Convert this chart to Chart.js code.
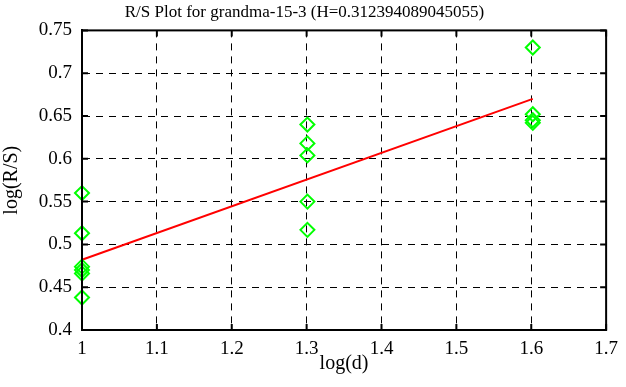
<!DOCTYPE html>
<html lang="en">
<head>
    <meta charset="UTF-8">
    <script src="https://cdn.jsdelivr.net/npm/chart.js"></script>
    <title>R/S Plot</title>
    <style>
        html, body { margin: 0; padding: 0; background: #fff; }
        #wrap { width: 626px; height: 387px; }
    </style>
</head>
<body>
<div id="wrap"><canvas id="grafico"></canvas></div>
<script>
    // log(d) and log(R/S)
    const rsX = [1, 1, 1, 1, 1, 1,
                 1.30103, 1.30103, 1.30103, 1.30103, 1.30103,
                 1.60206, 1.60206, 1.60206, 1.60206];
    const rsY = [0.560, 0.513, 0.474, 0.470, 0.466, 0.438,
                 0.640, 0.618, 0.604, 0.550, 0.517,
                 0.730, 0.652, 0.645, 0.642];

    // fitted line (slope H)
    const fitX = [1, 1.60206];
    const fitY = [0.482, 0.670];

    const xTickLabels = ['1', '1.1', '1.2', '1.3', '1.4', '1.5', '1.6', '1.7'];
    const yTickLabels = ['0.4', '0.45', '0.5', '0.55', '0.6', '0.65', '0.7', '0.75'];

    const serif = 'Liberation Serif';

    // box around the plot with small inward ticks
    const frame = {
        id: 'frame',
        afterDraw(chart) {
            const {ctx, chartArea: a, scales} = chart;
            ctx.save();
            ctx.strokeStyle = '#000';
            ctx.lineWidth = 2;
            ctx.strokeRect(a.left, a.top, a.right - a.left, a.bottom - a.top);
            ctx.beginPath();
            scales.x.ticks.forEach(t => {
                const px = scales.x.getPixelForValue(t.value);
                ctx.moveTo(px, a.bottom); ctx.lineTo(px, a.bottom - 6);
                ctx.moveTo(px, a.top); ctx.lineTo(px, a.top + 6);
            });
            scales.y.ticks.forEach(t => {
                const py = scales.y.getPixelForValue(t.value);
                ctx.moveTo(a.left, py); ctx.lineTo(a.left + 6, py);
                ctx.moveTo(a.right, py); ctx.lineTo(a.right - 6, py);
            });
            ctx.stroke();
            ctx.restore();
        }
    };

    const ctx = document.getElementById('grafico').getContext('2d');
    new Chart(ctx, {
        type: 'scatter',
        data: {
            datasets: [{
                label: 'R/S',
                data: rsX.map((x, i) => ({x: x, y: rsY[i]})),
                pointStyle: 'rectRot',
                pointRadius: 7,
                pointHoverRadius: 7,
                borderWidth: 2,
                borderColor: '#00ff00',
                backgroundColor: 'rgba(0,0,0,0)',
                clip: false
            }, {
                label: 'fit',
                data: fitX.map((x, i) => ({x: x, y: fitY[i]})),
                showLine: true,
                borderColor: '#ff0000',
                borderWidth: 2,
                pointRadius: 0,
                clip: false
            }]
        },
        options: {
            responsive: true,
            maintainAspectRatio: false,
            animation: false,
            layout: { padding: { left: 0, right: 17, top: 0, bottom: 0 } },
            plugins: {
                legend: { display: false },
                tooltip: { enabled: false },
                title: {
                    display: true,
                    text: 'R/S Plot for grandma-15-3 (H=0.312394089045055)',
                    color: '#000',
                    font: { family: serif, size: 17, weight: 'normal' },
                    padding: { top: 2, bottom: 8 }
                }
            },
            scales: {
                x: {
                    type: 'linear',
                    min: 1, max: 1.7,
                    afterFit(s) { s.height = 57; },
                    ticks: {
                        stepSize: 0.1,
                        color: '#000',
                        padding: 8,
                        font: { family: serif, size: 19 },
                        callback: v => xTickLabels[Math.round((v - 1) / 0.1)]
                    },
                    grid: { color: '#000', lineWidth: 1, drawTicks: false },
                    border: { color: '#000', width: 2, dash: [7, 6] },
                    title: {
                        display: true, text: 'log(d)', color: '#000',
                        font: { family: serif, size: 20 },
                        padding: { top: 0, bottom: 11 }
                    }
                },
                y: {
                    min: 0.4, max: 0.75,
                    afterFit(s) { s.width = 82; },
                    ticks: {
                        stepSize: 0.05,
                        color: '#000',
                        padding: 10,
                        font: { family: serif, size: 19 },
                        callback: v => yTickLabels[Math.round((v - 0.4) / 0.05)]
                    },
                    grid: { color: '#000', lineWidth: 1, drawTicks: false },
                    border: { color: '#000', width: 2, dash: [7, 6] },
                    title: {
                        display: true, text: 'log(R/S)', color: '#000',
                        font: { family: serif, size: 20 },
                        padding: { top: 0, bottom: 0 }
                    }
                }
            }
        },
        plugins: [frame]
    });
</script>
</body>
</html>
